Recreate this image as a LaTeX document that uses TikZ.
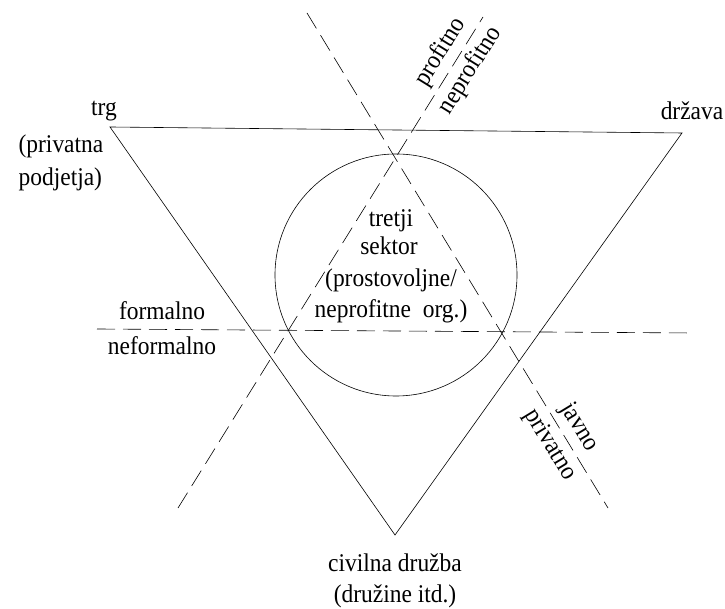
\documentclass[tikz,border=0pt]{standalone}
\usepackage{fontspec}
\setmainfont{Liberation Serif}[FakeStretch=0.92]
\usetikzlibrary{positioning}
\pgfmathsetmacro{\myr}{121}
\pgfmathsetmacro{\mypos}{0.855}
\pgfmathsetmacro{\mypq}{0.91}
\newlength{\mypad}
\setlength{\mypad}{2pt}

\begin{document}
\begin{tikzpicture}[x=1pt, y=1pt, line width=0.6pt,
    divide/.style={dash pattern=on 18pt off 8pt},
    lbl/.style={font=\fontsize{25.5}{30}\selectfont}]
\useasboundingbox (0,0) rectangle (725,609);

% triangle and circle
\coordinate (trgc) at (110,482);
\coordinate (drzc) at (682,476);
\coordinate (civc) at (395,74);
\draw (trgc) -- (drzc) -- (civc) -- cycle;
\draw (396,334) circle (\myr);

% dividing lines
\coordinate (forl) at (97,280);
\coordinate (forr) at (693,276);
\coordinate (javt) at (307,596);
\coordinate (javb) at (608,101);
\coordinate (prob) at (178,101);
\coordinate (prot) at (483,592);
\draw[divide] (forl) -- (forr);
\draw[divide] (javt) -- (javb)
    node[lbl, pos=\mypos, sloped, above=\mypad] (javno) {javno}
    node[lbl, pos=\mypos, sloped, below=\mypad] (privatno) {privatno};
\draw[divide] (prob) -- (prot)
    node[lbl, pos=\mypq, sloped, above=\mypad] (profitno) {profitno}
    node[lbl, pos=\mypq, sloped, below=\mypad] (neprofitno) {neprofitno};

% corner labels
\node[lbl, anchor=base] (trg) at (104,493) {trg};
\node[lbl, anchor=base west] (priv) at (15,456) {(privatna};
\node[lbl, anchor=base west] (podj) at (15,423) {podjetja)};
\node[lbl, anchor=base] (drzava) at (692,489) {država};
\node[lbl, anchor=base] (civ) at (395,37) {civilna družba};
\node[lbl, anchor=base] (druz) at (395,6) {(družine itd.)};

\node[lbl, anchor=base] (form) at (162,289) {formalno};
\node[lbl, anchor=base] (neform) at (162,254) {neformalno};

% third sector
\node[lbl, anchor=base] (tretji) at (391,382) {tretji};
\node[lbl, anchor=base] (sektor) at (389,354) {sektor};
\node[lbl, anchor=base] (prost) at (391,322) {(prostovoljne/};
\node[lbl, anchor=base] (neprof) at (391,291) {neprofitne\ \ org.)};
\end{tikzpicture}
\end{document}
